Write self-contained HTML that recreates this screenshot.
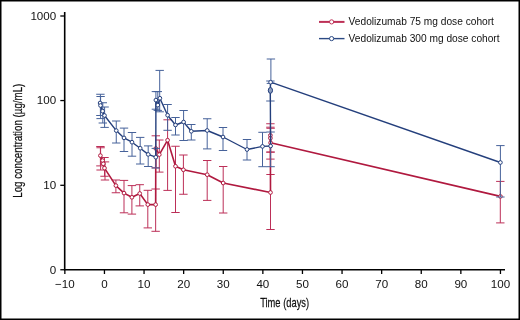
<!DOCTYPE html>
<html><head><meta charset="utf-8"><style>
html,body{margin:0;padding:0;background:#fff;}
#c{position:relative;width:520px;height:320px;overflow:hidden;background:#fff;}
svg{position:absolute;left:0;top:0;will-change:transform;}
</style></head><body><div id="c">
<svg width="520" height="320" viewBox="0 0 520 320"><path d="M0 0H520V320H0ZM1.5 1.5V318.5H518.5V1.5Z" fill="#000" fill-rule="evenodd"/><path d="M100.40 146.50V165.90M96.20 146.50H104.60M96.20 165.90H104.60M100.60 147.75V170.00M96.40 147.75H104.80M96.40 170.00H104.80M104.50 157.50V176.25M100.30 157.50H108.70M100.30 176.25H108.70M105.00 161.90V180.00M100.80 161.90H109.20M100.80 180.00H109.20M115.90 180.00V192.75M111.70 180.00H120.10M111.70 192.75H120.10M124.00 180.40V212.80M119.80 180.40H128.20M119.80 212.80H128.20M131.90 185.60V214.10M127.70 185.60H136.10M127.70 214.10H136.10M139.75 184.70V205.90M135.55 184.70H143.95M135.55 205.90H143.95M147.80 190.30V227.90M143.60 190.30H152.00M143.60 227.90H152.00M155.65 189.00V231.30M151.45 189.00H159.85M151.45 231.30H159.85M155.80 135.80V167.80M151.60 135.80H160.00M151.60 167.80H160.00M159.30 140.00V172.10M155.10 140.00H163.50M155.10 172.10H163.50M167.60 119.80V190.40M163.40 119.80H171.80M163.40 190.40H171.80M175.50 146.25V212.50M171.30 146.25H179.70M171.30 212.50H179.70M183.40 155.00V194.25M179.20 155.00H187.60M179.20 194.25H187.60M207.20 160.50V200.40M203.00 160.50H211.40M203.00 200.40H211.40M223.20 166.50V213.00M219.00 166.50H227.40M219.00 213.00H227.40M270.50 174.50V229.50M266.30 174.50H274.70M266.30 229.50H274.70M270.40 123.75V152.20M266.20 123.75H274.60M266.20 152.20H274.60M270.40 127.20V159.10M266.20 127.20H274.60M266.20 159.10H274.60M270.60 128.30V152.00M266.40 128.30H274.80M266.40 152.00H274.80M500.30 181.40V222.90M496.10 181.40H504.50M496.10 222.90H504.50" stroke="#bc2f58" stroke-width="1.0" fill="none"/><path d="M100.40 155.60 L102.60 160.60 L103.30 163.80 L104.50 168.10 L115.90 185.60 L124.00 193.10 L131.90 197.30 L139.75 193.50 L147.80 204.60 L155.65 204.60 L155.80 148.50 L159.30 154.60 L167.60 140.20 L175.50 166.25 L183.40 169.80 L207.20 174.70 L223.20 183.00 L270.50 192.50 L270.40 135.40 L270.40 138.20 L270.60 142.70 L500.40 196.40" stroke="#b0193f" stroke-width="1.6" fill="none" stroke-linejoin="round"/><g stroke="#b0193f" stroke-width="1.0" fill="#fff"><circle cx="100.40" cy="155.60" r="1.85"/><circle cx="102.60" cy="160.60" r="1.85"/><circle cx="103.30" cy="163.80" r="1.85"/><circle cx="104.50" cy="168.10" r="1.85"/><circle cx="115.90" cy="185.60" r="1.85"/><circle cx="124.00" cy="193.10" r="1.85"/><circle cx="131.90" cy="197.30" r="1.85"/><circle cx="139.75" cy="193.50" r="1.85"/><circle cx="147.80" cy="204.60" r="1.85"/><circle cx="155.65" cy="204.60" r="1.85"/><circle cx="155.80" cy="148.50" r="1.85"/><circle cx="159.30" cy="154.60" r="1.85"/><circle cx="167.60" cy="140.20" r="1.85"/><circle cx="175.50" cy="166.25" r="1.85"/><circle cx="183.40" cy="169.80" r="1.85"/><circle cx="207.20" cy="174.70" r="1.85"/><circle cx="223.20" cy="183.00" r="1.85"/><circle cx="270.50" cy="192.50" r="1.85"/><circle cx="270.40" cy="135.40" r="1.85"/><circle cx="270.40" cy="138.20" r="1.85"/><circle cx="270.60" cy="142.70" r="1.85"/><circle cx="500.40" cy="196.40" r="1.85"/></g><path d="M100.40 94.25V115.50M96.20 94.25H104.60M96.20 115.50H104.60M100.60 96.50V118.60M96.40 96.50H104.80M96.40 118.60H104.80M102.80 102.75V123.00M98.60 102.75H107.00M98.60 123.00H107.00M104.60 107.00V127.40M100.40 107.00H108.80M100.40 127.40H108.80M116.25 121.00V143.00M112.05 121.00H120.45M112.05 143.00H120.45M124.00 128.10V151.50M119.80 128.10H128.20M119.80 151.50H128.20M132.00 132.50V156.20M127.80 132.50H136.20M127.80 156.20H136.20M140.20 137.40V164.00M136.00 137.40H144.40M136.00 164.00H144.40M148.20 145.90V166.50M144.00 145.90H152.40M144.00 166.50H152.40M155.80 148.40V168.00M151.60 148.40H160.00M151.60 168.00H160.00M155.90 91.60V109.20M151.70 91.60H160.10M151.70 109.20H160.10M157.80 91.60V110.40M153.60 91.60H162.00M153.60 110.40H162.00M159.70 70.40V111.80M155.50 70.40H163.90M155.50 111.80H163.90M167.60 104.50V130.30M163.40 104.50H171.80M163.40 130.30H171.80M175.50 117.50V135.00M171.30 117.50H179.70M171.30 135.00H179.70M183.60 110.50V140.50M179.40 110.50H187.80M179.40 140.50H187.80M191.30 124.50V140.00M187.10 124.50H195.50M187.10 140.00H195.50M207.20 118.75V148.90M203.00 118.75H211.40M203.00 148.90H211.40M223.00 127.50V150.50M218.80 127.50H227.20M218.80 150.50H227.20M247.00 139.50V160.00M242.80 139.50H251.20M242.80 160.00H251.20M262.50 132.30V166.70M258.30 132.30H266.70M258.30 166.70H266.70M270.60 132.00V166.70M266.40 132.00H274.80M266.40 166.70H274.80M270.40 81.00V101.00M266.20 81.00H274.60M266.20 101.00H274.60M270.90 59.00V83.40M266.70 59.00H275.10M266.70 83.40H275.10M500.40 145.60V197.00M496.20 145.60H504.60M496.20 197.00H504.60" stroke="#46629a" stroke-width="1.0" fill="none"/><path d="M100.10 103.00 L100.50 105.50 L102.60 111.10 L104.50 115.50 L116.25 130.60 L124.00 137.90 L132.00 142.20 L140.20 148.20 L148.20 154.40 L155.80 157.20 L155.90 100.10 L157.80 105.10 L159.90 98.25 L167.60 115.20 L175.50 125.00 L183.60 122.00 L191.30 131.30 L207.20 130.50 L223.00 137.00 L247.00 149.50 L262.50 146.40 L270.60 146.00 L270.30 90.40 L270.60 82.20 L500.40 162.50" stroke="#243f7c" stroke-width="1.4" fill="none" stroke-linejoin="round"/><g stroke="#243f7c" stroke-width="1.0" fill="#fff"><circle cx="100.10" cy="103.00" r="1.85"/><circle cx="100.50" cy="105.50" r="1.85"/><circle cx="102.60" cy="111.10" r="1.85"/><circle cx="104.50" cy="115.50" r="1.85"/><circle cx="116.25" cy="130.60" r="1.85"/><circle cx="124.00" cy="137.90" r="1.85"/><circle cx="132.00" cy="142.20" r="1.85"/><circle cx="140.20" cy="148.20" r="1.85"/><circle cx="148.20" cy="154.40" r="1.85"/><circle cx="155.80" cy="157.20" r="1.85"/><circle cx="155.90" cy="100.10" r="1.85"/><circle cx="157.80" cy="105.10" r="1.85"/><circle cx="159.90" cy="98.25" r="1.85"/><circle cx="167.60" cy="115.20" r="1.85"/><circle cx="175.50" cy="125.00" r="1.85"/><circle cx="183.60" cy="122.00" r="1.85"/><circle cx="191.30" cy="131.30" r="1.85"/><circle cx="207.20" cy="130.50" r="1.85"/><circle cx="223.00" cy="137.00" r="1.85"/><circle cx="247.00" cy="149.50" r="1.85"/><circle cx="262.50" cy="146.40" r="1.85"/><circle cx="270.60" cy="146.00" r="1.85"/><circle cx="270.30" cy="90.40" r="1.85"/><circle cx="270.60" cy="82.20" r="1.85"/><circle cx="500.40" cy="162.50" r="1.85"/></g><ellipse cx="270.4" cy="90.4" rx="2.1" ry="2.9" fill="#8e9fc0" stroke="#243f7c" stroke-width="1"/><path d="M64.7 12V270.55M63.9 269.75H505" stroke="#000" stroke-width="1.6" fill="none"/><path d="M64.85 270V274" stroke="#000" stroke-width="1.3"/><path d="M104.45 270V274" stroke="#000" stroke-width="1.3"/><path d="M144.05 270V274" stroke="#000" stroke-width="1.3"/><path d="M183.65 270V274" stroke="#000" stroke-width="1.3"/><path d="M223.25 270V274" stroke="#000" stroke-width="1.3"/><path d="M262.85 270V274" stroke="#000" stroke-width="1.3"/><path d="M302.45 270V274" stroke="#000" stroke-width="1.3"/><path d="M342.05 270V274" stroke="#000" stroke-width="1.3"/><path d="M381.65 270V274" stroke="#000" stroke-width="1.3"/><path d="M421.25 270V274" stroke="#000" stroke-width="1.3"/><path d="M460.85 270V274" stroke="#000" stroke-width="1.3"/><path d="M500.45 270V274" stroke="#000" stroke-width="1.3"/><path d="M60.3 16.00H65" stroke="#000" stroke-width="1.3"/><path d="M60.3 100.55H65" stroke="#000" stroke-width="1.3"/><path d="M60.3 185.30H65" stroke="#000" stroke-width="1.3"/><path d="M60.3 269.75H65" stroke="#000" stroke-width="1.3"/><path d="M319 21.9H344.5" stroke="#bd3056" stroke-width="2"/><circle cx="331.6" cy="21.9" r="2.1" stroke="#bd3056" stroke-width="1" fill="#fff"/><path d="M319 38.6H344.5" stroke="#2c4a84" stroke-width="1.4"/><circle cx="331.6" cy="38.6" r="2.1" stroke="#2c4a84" stroke-width="1" fill="#fff"/><g font-family="Liberation Sans" font-size="11.6" fill="#111"><text x="56.2" y="19.80" text-anchor="end">1000</text><text x="56.2" y="104.35" text-anchor="end">100</text><text x="56.2" y="189.10" text-anchor="end">10</text><text x="56.2" y="273.55" text-anchor="end">0</text><text x="64.85" y="288.0" text-anchor="middle">−10</text><text x="104.45" y="288.0" text-anchor="middle">0</text><text x="144.05" y="288.0" text-anchor="middle">10</text><text x="183.65" y="288.0" text-anchor="middle">20</text><text x="223.25" y="288.0" text-anchor="middle">30</text><text x="262.85" y="288.0" text-anchor="middle">40</text><text x="302.45" y="288.0" text-anchor="middle">50</text><text x="342.05" y="288.0" text-anchor="middle">60</text><text x="381.65" y="288.0" text-anchor="middle">70</text><text x="421.25" y="288.0" text-anchor="middle">80</text><text x="460.85" y="288.0" text-anchor="middle">90</text><text x="500.45" y="288.0" text-anchor="middle">100</text></g><g font-family="Liberation Sans" font-size="10.18" fill="#111"><text x="348.6" y="25.1">Vedolizumab 75 mg dose cohort</text><text x="348.6" y="41.6">Vedolizumab 300 mg dose cohort</text></g><g font-family="Liberation Sans" font-size="13" fill="#111" stroke="#111" stroke-width="0.25"><text transform="translate(284.6 307.1) scale(0.719 1)" text-anchor="middle">Time (days)</text><text font-size="13.5" transform="translate(21.8 140.7) rotate(-90) scale(0.724 1)" text-anchor="middle">Log concentration (µg/mL)</text></g></svg>
</div></body></html>
